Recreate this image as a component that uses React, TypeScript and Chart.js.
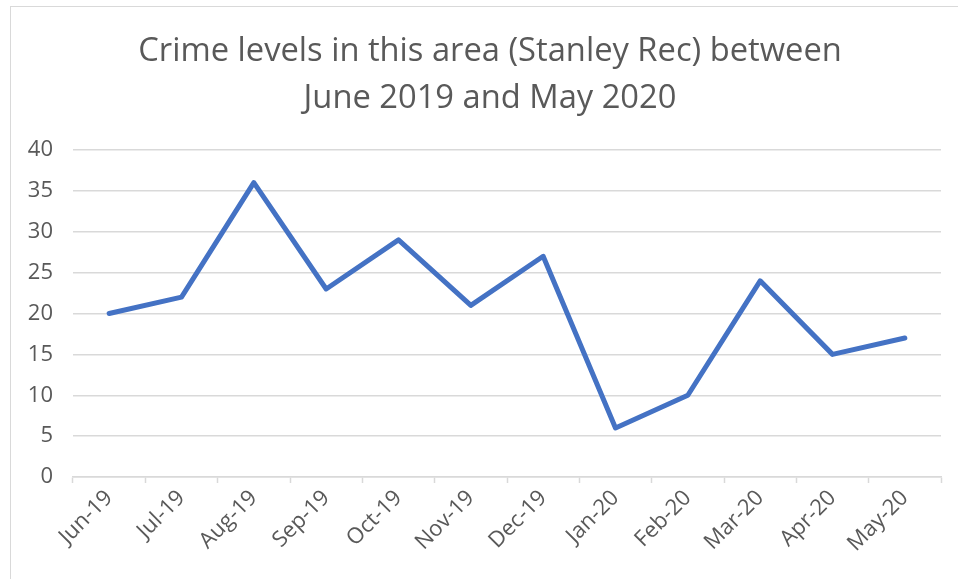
import React, { useEffect, useRef } from "react";
import { Chart, registerables } from "chart.js";

Chart.register(...registerables);

const categories = ["Jun-19", "Jul-19", "Aug-19", "Sep-19", "Oct-19", "Nov-19", "Dec-19", "Jan-20", "Feb-20", "Mar-20", "Apr-20", "May-20"];
const crimeLevels = [20, 22, 36, 23, 29, 21, 27, 6, 10, 24, 15, 17];
const titleLines = ["Crime levels in this area (Stanley Rec) between", "June 2019 and May 2020"];

const titlePlugin = {
  id: "centeredTitle",
  afterDraw(chart: any) {
    const ctx = chart.ctx;
    ctx.save();
    ctx.font = '32.7px "Open Sans"';
    ctx.fillStyle = "#595959";
    ctx.textAlign = "center";
    ctx.textBaseline = "middle";
    titleLines.forEach((line, i) => {
      ctx.fillText(line, 490, 52 + i * 47);
    });
    ctx.restore();
  },
};

export default function App() {
  const ref = useRef<HTMLCanvasElement | null>(null);
  useEffect(() => {
    if (!ref.current) return;
    const chart = new Chart(ref.current, {
      type: "line",
      data: {
        labels: categories,
        datasets: [
          {
            data: crimeLevels,
            borderColor: "#4472C4",
            backgroundColor: "#4472C4",
            borderWidth: 5,
            pointRadius: 0,
            tension: 0,
            borderCapStyle: "round",
            borderJoinStyle: "round",
          },
        ],
      },
      options: {
        animation: false,
        responsive: false,
        layout: { padding: { left: 0, right: 17, top: 150, bottom: 0 } },
        plugins: {
          legend: { display: false },
          tooltip: { enabled: false },
          title: { display: false },
        },
        scales: {
          x: {
            offset: true,
            grid: { offset: true, drawOnChartArea: false, color: "#d9d9d9", tickLength: 6, tickWidth: 1.5 },
            border: { color: "#d9d9d9", width: 1.5 },
            ticks: {
              color: "#595959",
              font: { family: "Open Sans", size: 22 },
              maxRotation: 45,
              minRotation: 45,
              autoSkip: false,
              padding: 2,
            },
            afterFit: (s: any) => {
              s.height = 102;
            },
          },
          y: {
            min: 0,
            max: 40,
            ticks: {
              stepSize: 5,
              color: "#595959",
              font: { family: "Open Sans", size: 22 },
              padding: 20,
            },
            grid: { color: "#d9d9d9", lineWidth: 1.5, drawTicks: false },
            border: { display: false },
            afterFit: (s: any) => {
              s.width = 73;
            },
          },
        },
      },
      plugins: [titlePlugin],
    });
    return () => chart.destroy();
  }, []);
  return (
    <div style={{ position: "absolute", left: 0, top: 0, width: 958, height: 579, background: "#fff", overflow: "hidden" }}>
      <div style={{ position: "absolute", left: 10, top: 6, width: 960, height: 600, border: "1.5px solid #d9d9d9", boxSizing: "border-box" }} />
      <canvas ref={ref} width={958} height={579} style={{ position: "absolute", left: 0, top: 0 }} />
    </div>
  );
}
